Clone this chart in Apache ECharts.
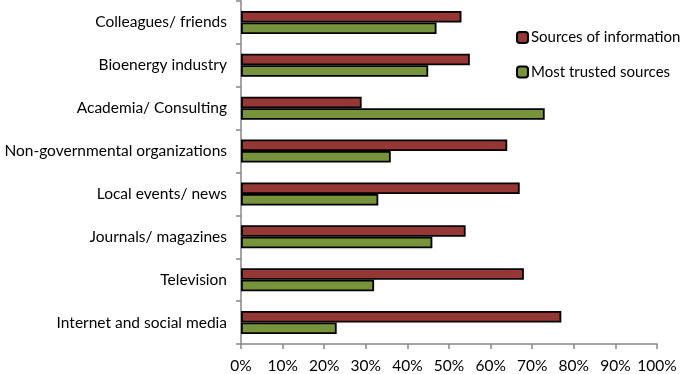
<!DOCTYPE html>
<html>
<head>
<meta charset="utf-8">
<script src="https://cdn.jsdelivr.net/npm/echarts@6/dist/echarts.min.js"></script>
<style>html,body{margin:0;padding:0;background:#fff}#c{width:685px;height:374px}</style>
</head>
<body>
<div id="c"></div>
<script>
const categories = ["Colleagues/ friends","Bioenergy industry","Academia/ Consulting","Non-governmental organizations","Local events/ news","Journals/ magazines","Television","Internet and social media"];
const sourcesOfInformation = [53,55,29,64,67,54,68,77];
const mostTrusted = [47,45,73,36,33,46,32,23];
const seriesNames = ["Sources of information","Most trusted sources"];
const FONT = "Lato";
const chart = echarts.init(document.getElementById('c'));
chart.setOption({
  animation:false,
  textStyle:{fontFamily:FONT},
  grid:{left:241,right:28,top:1,bottom:29,containLabel:false},
  legend:{
    orient:'vertical',left:511,top:25,itemWidth:11,itemHeight:11,itemGap:19.5,
    textStyle:{fontFamily:FONT,fontSize:15,color:'#000',padding:[0,0,0,-2]},
    data:seriesNames
  },
  xAxis:{
    type:'value',min:0,max:100,interval:10,
    axisLabel:{formatter:'{value}%',fontFamily:FONT,fontSize:15.5,color:'#000',margin:14},
    axisLine:{show:true,lineStyle:{color:'#868686',width:1.5}},
    axisTick:{show:true,length:5,lineStyle:{color:'#868686',width:1.5}},
    splitLine:{show:false}
  },
  yAxis:{
    type:'category',data:categories,inverse:true,
    axisLabel:{fontFamily:FONT,fontSize:15.5,color:'#000',margin:14},
    axisLine:{show:true,lineStyle:{color:'#868686',width:1.5}},
    axisTick:{show:true,length:5,lineStyle:{color:'#868686',width:1.5}}
  },
  series:[
    {name:seriesNames[0],type:'bar',data:sourcesOfInformation,barWidth:11.5,barGap:'0%',
     itemStyle:{color:'#953735',borderColor:'#000',borderWidth:1.8}},
    {name:seriesNames[1],type:'bar',data:mostTrusted,barWidth:11.5,barGap:'0%',
     itemStyle:{color:'#77933C',borderColor:'#000',borderWidth:1.8}}
  ]
});
</script>
</body>
</html>
